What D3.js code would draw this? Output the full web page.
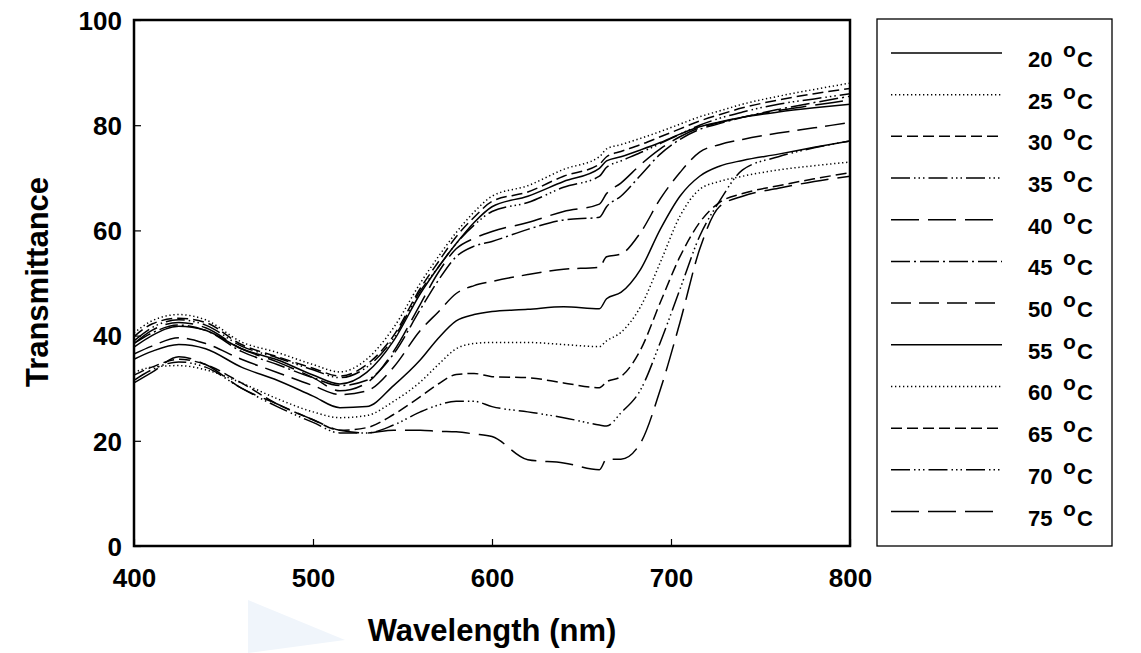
<!DOCTYPE html>
<html><head><meta charset="utf-8">
<script src="https://cdn.jsdelivr.net/npm/d3@7"></script>
<style>
body{margin:0;background:#fff;}
text{font-family:"Liberation Sans",Arial,sans-serif;font-weight:bold;fill:#000;}
</style>
</head><body>
<svg id="chart" width="1141" height="653"></svg>
<script>
// ---- data ----
const wavelengths = [400,410,425,440,460,480,500,515,530,545,560,570,580,590,600,620,640,660,664,672,683,694,705,716,727,740,760,780,800];
const xTickValues = [400,500,600,700,800];
const yTickValues = [0,20,40,60,80,100];
const temperatures = ["20","25","30","35","40","45","50","55","60","65","70","75"];

const t20 = [37.8,40,41.8,41,37.5,35.4,32.5,30.8,33,39,48,53,57.5,61.5,64.5,66.5,69.3,71.8,73.2,74,75.3,76.7,78.3,79.7,80.6,81.5,82.5,83.3,84];
const t25 = [40.5,42.8,44,43,38.8,36.8,34.5,33.1,35.5,41.5,50,55,59.6,63.5,66.5,68.5,71.6,74,75.5,76.3,77.5,78.8,80.2,81.6,82.7,84,85.5,86.8,88];
const t30 = [39.8,42.2,43.3,42.5,38.3,36,33.8,32.3,34.5,40,49,54,58.8,62.5,65.5,67.3,70.3,72.6,74,75,76.3,77.8,79.3,80.8,82,83.3,84.8,86,87];
const t35 = [39,41.5,43,42,38,35.8,33.5,32,34,39.5,48.5,53,57.5,61,63.6,65.3,68.2,70.3,72,73.2,74.8,76.5,78.3,80,81.3,82.5,84,85,86];
const t40 = [38.5,41,42.5,41.5,37.5,35,32,29.5,31,37,46,52,56.5,58.5,59.8,61.5,63.6,65,67,69,72.5,75.5,77.8,79.5,80.5,81.5,82.8,83.8,84.8];
const t45 = [38.5,40.5,42,41,37,34.5,32,30.5,31.5,36.5,45,50.5,55,57,57.9,60.2,62,62.5,64.5,66.5,70.5,74.5,77.3,79.2,80.3,81.5,83,84.3,85.5];
const t50 = [36.5,38,39.6,38.5,35.5,33,30.5,28.8,29.5,34,41,44.5,48,49.5,50.3,51.6,52.6,53,55,55.5,59.6,66,71,74.9,76.3,77.3,78.5,79.5,80.5];
const t55 = [35.5,37,38.3,37.5,34,31.5,28.5,26.3,26.5,30.5,35.4,39.5,42.8,44,44.6,45,45.5,45.1,47,48.2,52.6,60.2,66.5,70.3,72.2,73.3,74.5,75.8,77];
const t60 = [33,34,34.3,33.5,31,28,25.5,24.4,24.8,27.5,31.2,34.5,37.5,38.5,38.7,38.7,38.3,37.9,39,40.6,45.5,53.9,62.7,67.8,69.3,70.3,71.5,72.3,73];
const t65 = [32.5,34,35.5,34.5,31,27,24,22,22.5,25,28.4,30.8,32.6,32.8,32.2,32,31,30.1,31.2,32.2,37.3,46.3,55,61.5,65.3,67,68.5,69.8,71];
const t70 = [31.5,33.5,35,34,30,26.5,23.5,21.5,21.5,23,25.5,26.8,27.5,27.5,26.5,25.5,24.4,23,22.8,25.3,29.7,38.7,48.8,58.9,65.5,71.5,74,75.7,77];
const t75 = [31,33,36,34.5,30,27,24,22,21.5,22,22,21.8,21.7,21.3,20.8,16.4,15.8,14.5,16.5,16.5,19.6,29.7,42.5,56.4,64.5,66.5,68,69.3,70.3];
const seriesValues = [t20,t25,t30,t35,t40,t45,t50,t55,t60,t65,t70,t75];

// ---- styles ----
const dashStyles = {
  solid: null,
  dotted: "1.3,2.7",
  dashed: "11,5",
  dashDotDot: "19,4,1.5,3,1.5,3,1.5,4",
  longDash: "28,9",
  dashDot: "19,4,2,4",
  medDash: "20,8"
};
const seriesDash = ["solid","dotted","dashed","dashDotDot","longDash","dashDot","medDash","solid","dotted","dashed","dashDotDot","longDash"];

const svg = d3.select("#chart");
const plot = {left:134, right:850, top:20, bottom:546};

// faint background mark near the x title
svg.append("polygon")
  .attr("points","248,600 345,640 248,653")
  .attr("fill","#f0f5fb");

const x = d3.scaleLinear().domain([400,800]).range([plot.left, plot.right]);
const y = d3.scaleLinear().domain([0,100]).range([plot.bottom, plot.top]);

// curves
const line = d3.line().x(d=>x(d[0])).y(d=>y(d[1])).curve(d3.curveMonotoneX);
const g = svg.append("g");
seriesValues.forEach((vals,i)=>{
  const pts = wavelengths.map((w,j)=>[w, vals[j]]);
  g.append("path")
    .datum(pts)
    .attr("d", line)
    .attr("fill","none")
    .attr("stroke","#000")
    .attr("stroke-width",1.5)
    .attr("stroke-dasharray", dashStyles[seriesDash[i]]);
});

// axes (ticks inward)
const xAxis = d3.axisBottom(x).tickValues(xTickValues).tickSize(-7).tickSizeOuter(0).tickFormat(d3.format("d"));
const yAxis = d3.axisLeft(y).tickValues(yTickValues).tickSize(-7).tickSizeOuter(0).tickFormat(d3.format("d"));

const gx = svg.append("g").attr("transform",`translate(0,${plot.bottom})`).call(xAxis);
gx.select(".domain").remove();
gx.selectAll(".tick line").attr("stroke","#000").attr("stroke-width",1.2);
gx.selectAll(".tick text").attr("y",41).attr("dy",null)
  .style("font-size","26px").style("font-family","'Liberation Sans',Arial,sans-serif").style("font-weight","bold").attr("fill","#000");

const gy = svg.append("g").attr("transform",`translate(${plot.left},0)`).call(yAxis);
gy.select(".domain").remove();
gy.selectAll(".tick line").attr("stroke","#000").attr("stroke-width",1.2);
gy.selectAll(".tick text").attr("x",-12).attr("dy","0.36em")
  .style("font-size","26px").style("font-family","'Liberation Sans',Arial,sans-serif").style("font-weight","bold").attr("fill","#000");

// frame
svg.append("rect")
  .attr("x",plot.left).attr("y",plot.top)
  .attr("width",plot.right-plot.left).attr("height",plot.bottom-plot.top)
  .attr("fill","none").attr("stroke","#000").attr("stroke-width",2.5);

// axis titles
svg.append("text").attr("x",(plot.left+plot.right)/2).attr("y",641)
  .attr("text-anchor","middle").style("font-size","31px").text("Wavelength (nm)");
svg.append("text").attr("transform","translate(48,282) rotate(-90)")
  .attr("text-anchor","middle").style("font-size","31px").text("Transmittance");

// legend
const lg = svg.append("g");
lg.append("rect").attr("x",877).attr("y",19).attr("width",235).attr("height",527)
  .attr("fill","#fff").attr("stroke","#000").attr("stroke-width",1.3);
const legendY = d3.scalePoint().domain(temperatures).range([53,511.5]);
temperatures.forEach((t,i)=>{
  const yy = legendY(t);
  lg.append("line").attr("x1",891).attr("x2",1002).attr("y1",yy).attr("y2",yy)
    .attr("stroke","#000").attr("stroke-width",1.5)
    .attr("stroke-dasharray", dashStyles[seriesDash[i]]);
  const tx = lg.append("text").attr("x",1028).attr("y",yy+14).style("font-size","22px");
  tx.append("tspan").text(t);
  tx.append("tspan").attr("x",1063).attr("dy",-10).style("font-size","21px").text("o");
  tx.append("tspan").attr("x",1077).attr("dy",10).text("C");
});
</script>
</body></html>
